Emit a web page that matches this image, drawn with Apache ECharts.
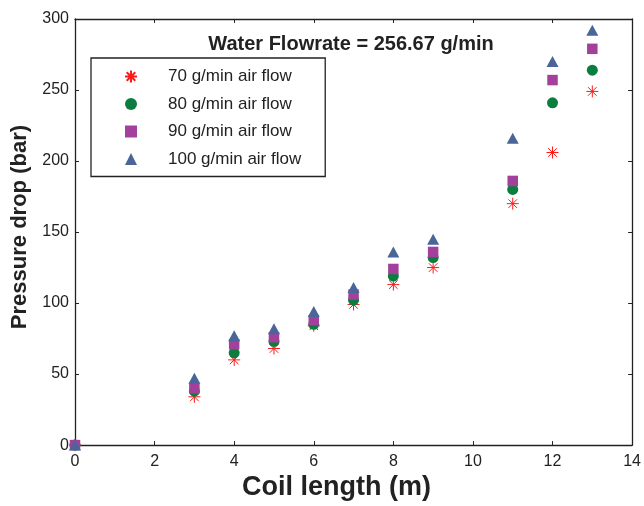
<!DOCTYPE html>
<html>
<head>
<meta charset="utf-8">
<script src="https://cdn.jsdelivr.net/npm/echarts@6/dist/echarts.min.js"></script>
<style>
  html, body { margin: 0; padding: 0; background: #fff; }
  #main { width: 644px; height: 506px; }
</style>
</head>
<body>
<div id="main"></div>
<script>
const coilLength = [0, 3, 4, 5, 6, 7, 8, 9, 11, 12, 13];
const air70 = [0, 34, 60, 68, 84, 99, 113, 125, 170, 206, 249];
const air80 = [0, 38, 65, 73, 85, 102, 119, 132, 180, 241, 264];
const air90 = [0, 40, 71, 76, 88, 106, 124, 136, 186, 257, 279];
const air100 = [0, 47, 77, 82, 94, 111, 136, 145, 216, 270, 292];
const seriesNames = ['70 g/min air flow', '80 g/min air flow', '90 g/min air flow', '100 g/min air flow'];

const FONT = "'Liberation Sans', Arial, sans-serif";
const STAR = 'path://M0,-6L0,6M-6,0L6,0M-4.3,-4.3L4.3,4.3M-4.3,4.3L4.3,-4.3';

const pairs = ys => coilLength.map((x, i) => [x, ys[i]]);

const chart = echarts.init(document.getElementById('main'));

const axisLine = { show: true, onZero: false, lineStyle: { color: '#222', width: 1.3 } };
const tick = { show: true, inside: true, length: 4, lineStyle: { color: '#222', width: 1 } };

chart.setOption({
  animation: false,
  backgroundColor: '#fff',
  title: {
    text: 'Water Flowrate = 256.67 g/min',
    left: 346,
    top: 29,
    textAlign: 'center',
    textStyle: { fontFamily: FONT, fontWeight: 'bold', fontSize: 20, color: '#222' },
  },
  legend: {
    orient: 'vertical',
    left: 91,
    top: 58,
    padding: [10, 24, 9, 33],
    itemWidth: 12,
    itemHeight: 12,
    itemGap: 10.5,
    borderColor: '#222',
    borderWidth: 1.3,
    backgroundColor: '#fff',
    data: seriesNames,
    textStyle: { fontFamily: FONT, fontSize: 17, color: '#222', lineHeight: 17, padding: [0, 0, 0, 26] },
  },
  grid: { left: 75, right: 9, top: 19, bottom: 50 },
  xAxis: [
    {
      type: 'value',
      min: 0,
      max: 14,
      interval: 2,
      position: 'bottom',
      name: 'Coil length (m)',
      nameLocation: 'middle',
      nameGap: 23,
      nameTextStyle: { fontFamily: FONT, fontWeight: 'bold', fontSize: 27, color: '#222', padding: [0, 34, 0, 0] },
      axisLine: axisLine,
      axisTick: tick,
      splitLine: { show: false },
      axisLabel: { fontFamily: FONT, fontSize: 16, color: '#222', margin: 8 },
    },
    {
      type: 'value',
      min: 0,
      max: 14,
      interval: 2,
      position: 'top',
      axisLine: axisLine,
      axisTick: tick,
      splitLine: { show: false },
      axisLabel: { show: false },
    },
  ],
  yAxis: [
    {
      type: 'value',
      min: 0,
      max: 300,
      interval: 50,
      position: 'left',
      name: 'Pressure drop (bar)',
      nameLocation: 'middle',
      nameGap: 43,
      nameTextStyle: { fontFamily: FONT, fontWeight: 'bold', fontSize: 22, color: '#222', padding: [0, 0, 0, 10] },
      axisLine: axisLine,
      axisTick: tick,
      splitLine: { show: false },
      axisLabel: { fontFamily: FONT, fontSize: 16, color: '#222', margin: 6 },
    },
    {
      type: 'value',
      min: 0,
      max: 300,
      interval: 50,
      position: 'right',
      axisLine: axisLine,
      axisTick: tick,
      splitLine: { show: false },
      axisLabel: { show: false },
    },
  ],
  series: [
    {
      name: seriesNames[0],
      type: 'scatter',
      symbol: STAR,
      symbolSize: 12,
      itemStyle: { color: '#ff1a1a', borderColor: '#ff1a1a', borderWidth: 1, opacity: 1 },
      data: pairs(air70),
    },
    {
      name: seriesNames[1],
      type: 'scatter',
      symbol: 'circle',
      symbolSize: 11,
      itemStyle: { color: '#0b7d3e', opacity: 1 },
      data: pairs(air80),
    },
    {
      name: seriesNames[2],
      type: 'scatter',
      symbol: 'rect',
      symbolSize: 10.5,
      itemStyle: { color: '#a3409b', opacity: 1 },
      data: pairs(air90),
    },
    {
      name: seriesNames[3],
      type: 'scatter',
      symbol: 'triangle',
      symbolSize: [12, 11],
      itemStyle: { color: '#4a6597', opacity: 1 },
      data: pairs(air100),
    },
  ],
});
</script>
</body>
</html>
